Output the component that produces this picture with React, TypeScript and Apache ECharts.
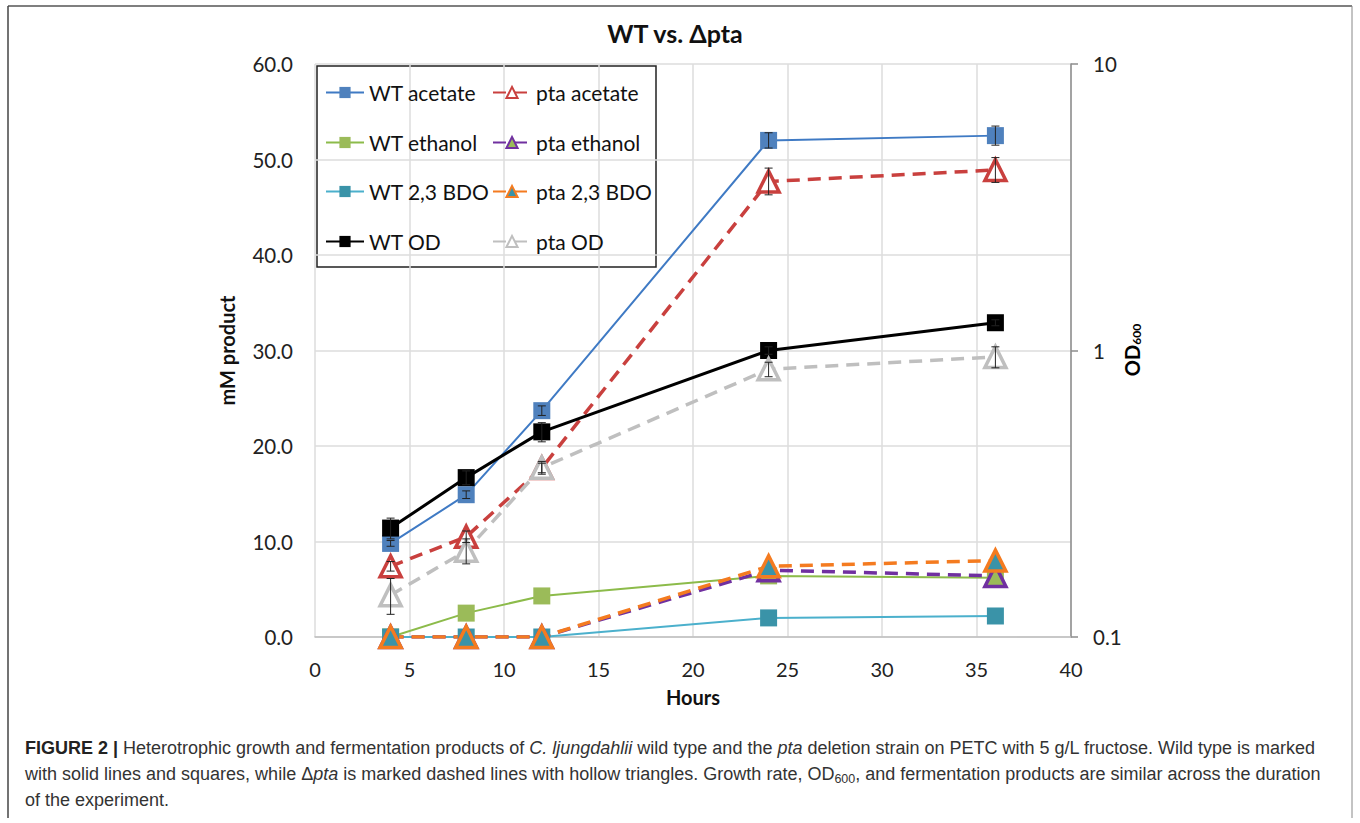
import React, { useEffect, useRef } from "react";
import * as echarts from "echarts";

const hours = [4, 8, 12, 24, 36];

const wtAcetate = [9.8, 14.9, 23.7, 52.0, 52.5];
const wtEthanol = [0.0, 2.5, 4.3, 6.4, 6.2];
const wtBdo = [0.0, 0.0, 0.0, 2.0, 2.2];
const ptaAcetate = [7.4, 10.5, 17.7, 47.7, 48.9];
const ptaEthanol = [0.0, 0.0, 0.0, 7.0, 6.4];
const ptaBdo = [0.0, 0.0, 0.0, 7.4, 8.0];
const wtOd = [0.24, 0.36, 0.52, 1.0, 1.25];
const ptaOd = [0.14, 0.2, 0.39, 0.86, 0.95];

const wtAcetateErr = [0.3, 0.4, 0.5, 0.8, 1.0];
const ptaAcetateErr = [0.5, 0.6, 0.5, 1.4, 1.3];
const wtOdErr = [0.02, 0.02, 0.04, 0.03, 0.03];
const ptaOdErr = [0.02, 0.02, 0.02, 0.05, 0.08];

const leftTicks = [0, 10, 20, 30, 40, 50, 60];
const xTicks = [0, 5, 10, 15, 20, 25, 30, 35, 40];

const FONT = "Lato";
const CAP = "Liberation Sans";

const zip = (ys: number[]) => hours.map((h, i) => [h, ys[i]]);

function solid(name: string, data: number[], line: string, fill: string, width: number, yAxisIndex: number) {
  return {
    name,
    type: "line",
    yAxisIndex,
    data: zip(data),
    symbol: "rect",
    symbolSize: 17,
    lineStyle: { color: line, width, type: "solid" },
    itemStyle: { color: fill, borderColor: fill, borderWidth: 0 },
    z: 3,
  };
}

function dashed(name: string, data: number[], color: string, yAxisIndex: number, fill = "#ffffff") {
  return {
    name,
    type: "line",
    yAxisIndex,
    data: zip(data),
    symbol: "triangle",
    symbolSize: 21,
    lineStyle: { color, width: 3.5, type: [13, 8] },
    itemStyle: { color: fill, borderColor: color, borderWidth: 3.5 },
    z: 3,
  };
}

function errBars(name: string, data: number[], err: number[], yAxisIndex: number) {
  return {
    name,
    type: "custom",
    yAxisIndex,
    z: 5,
    silent: true,
    data: hours.map((h, i) => [h, data[i] - err[i], data[i] + err[i]]),
    renderItem: (params: any, api: any) => {
      const x = api.value(0);
      const lo = api.coord([x, api.value(1)]);
      const hi = api.coord([x, api.value(2)]);
      const style = { stroke: "#222", lineWidth: 1 };
      return {
        type: "group",
        children: [
          { type: "line", shape: { x1: lo[0], y1: lo[1], x2: hi[0], y2: hi[1] }, style },
          { type: "line", shape: { x1: lo[0] - 4, y1: lo[1], x2: lo[0] + 4, y2: lo[1] }, style },
          { type: "line", shape: { x1: hi[0] - 4, y1: hi[1], x2: hi[0] + 4, y2: hi[1] }, style },
        ],
      };
    },
  };
}

const legendItem = (name: string, left: number, top: number) => ({
  data: [name],
  left,
  top,
  itemWidth: 38,
  itemHeight: 14,
  itemGap: 4,
  textStyle: { fontFamily: FONT, fontSize: 21, color: "#111" },
  selectedMode: false,
});

const capText = (text: string, y: number, rich: any = {}) => ({
  type: "text",
  x: 25,
  y,
  style: {
    text,
    verticalAlign: "middle",
    fontFamily: CAP,
    fontSize: 18,
    fill: "#333",
    rich,
  },
});

export default function App() {
  const ref = useRef<HTMLDivElement>(null);
  useEffect(() => {
    const chart = echarts.init(ref.current!, null, { renderer: "svg" });
    const option: any = {
      animation: false,
      backgroundColor: "#ffffff",
      title: {
        text: "WT vs. Δpta",
        left: 670,
        top: 15,
        textAlign: "center",
        textStyle: { fontFamily: FONT, fontSize: 25, fontWeight: "bold", color: "#111" },
      },
      grid: { left: 315, right: 289, top: 64, bottom: 186, containLabel: false },
      xAxis: {
        type: "value",
        min: 0,
        max: 40,
        interval: 5,
        axisLine: { show: true, lineStyle: { color: "#bfbfbf", width: 1.5 } },
        axisTick: { show: false },
        axisLabel: { margin: 22, fontFamily: FONT, fontSize: 20, color: "#222", formatter: (v: number) => (xTicks.includes(v) ? String(v) : "") },
        splitLine: { show: true, lineStyle: { color: "#dcdcdc", width: 1.5 } },
        name: "Hours",
        nameLocation: "middle",
        nameGap: 50,
        nameTextStyle: { fontFamily: FONT, fontSize: 20, fontWeight: "bold", color: "#111" },
      },
      yAxis: [
        {
          type: "value",
          min: 0,
          max: 60,
          interval: 10,
          axisLine: { show: false },
          axisTick: { show: false },
          axisLabel: { margin: 22, fontFamily: FONT, fontSize: 20.5, color: "#222", formatter: (v: number) => (leftTicks.includes(v) ? v.toFixed(1) : "") },
          splitLine: { show: true, lineStyle: { color: "#dcdcdc", width: 1.5 } },
          name: "mM product",
          nameLocation: "middle",
          nameGap: 78,
          nameTextStyle: { fontFamily: FONT, fontSize: 20, fontWeight: "bold", color: "#111" },
        },
        {
          type: "log",
          logBase: 10,
          min: 0.1,
          max: 10,
          position: "right",
          axisLine: { show: true, lineStyle: { color: "#8c8c8c", width: 1.5 } },
          axisTick: { show: true, length: 7, lineStyle: { color: "#8c8c8c", width: 1.5 } },
          axisLabel: { margin: 22, fontFamily: FONT, fontSize: 20.5, color: "#222" },
          splitLine: { show: false },
        },
      ],
      legend: [
        legendItem("WT acetate", 320, 77),
        legendItem("WT ethanol", 320, 127),
        legendItem("WT 2,3 BDO", 320, 176),
        legendItem("WT OD", 320, 226),
        legendItem("pta acetate", 487, 77),
        legendItem("pta ethanol", 487, 127),
        legendItem("pta 2,3 BDO", 487, 176),
        legendItem("pta OD", 487, 226),
      ],
      series: [
        solid("WT acetate", wtAcetate, "#3f7ac4", "#4f81bd", 2, 0),
        solid("WT ethanol", wtEthanol, "#8cbb4a", "#9bbb59", 2, 0),
        solid("WT 2,3 BDO", wtBdo, "#4bb0cc", "#3a93a8", 2, 0),
        dashed("pta acetate", ptaAcetate, "#c9403e", 0),
        dashed("pta ethanol", ptaEthanol, "#7030a0", 0, "#9bbb59"),
        dashed("pta 2,3 BDO", ptaBdo, "#f47b20", 0, "#3a93a8"),
        solid("WT OD", wtOd, "#000000", "#000000", 3, 1),
        dashed("pta OD", ptaOd, "#bfbfbf", 1),
        errBars("e1", wtAcetate, wtAcetateErr, 0),
        errBars("e2", ptaAcetate, ptaAcetateErr, 0),
        errBars("e3", wtOd, wtOdErr, 1),
        errBars("e4", ptaOd, ptaOdErr, 1),
      ],
      graphic: [
        {
          type: "rect",
          z: -1,
          shape: { x: 317, y: 66, width: 339, height: 201 },
          style: { fill: "#ffffff", stroke: "#222", lineWidth: 1.5 },
        },
        {
          type: "text",
          x: 1130,
          y: 350,
          rotation: Math.PI / 2,
          style: {
            text: "{a|OD}{s|600}",
            align: "center",
            verticalAlign: "middle",
            rich: {
              a: { fontFamily: FONT, fontSize: 20, fontWeight: "bold", color: "#111", lineHeight: 24, verticalAlign: "bottom" },
              s: { fontFamily: FONT, fontSize: 12, fontWeight: "bold", color: "#111", lineHeight: 24, verticalAlign: "bottom" },
            },
          },
        },
        { type: "line", shape: { x1: 8, y1: 6, x2: 1352, y2: 6 }, style: { stroke: "#555", lineWidth: 1.5 } },
        { type: "line", shape: { x1: 8, y1: 6, x2: 8, y2: 818 }, style: { stroke: "#444", lineWidth: 1.5 } },
        { type: "line", shape: { x1: 1352, y1: 6, x2: 1352, y2: 818 }, style: { stroke: "#888", lineWidth: 1 } },
        capText(
          "{b|FIGURE 2 |} Heterotrophic growth and fermentation products of {i|C. ljungdahlii} wild type and the {i|pta} deletion strain on PETC with 5 g/L fructose. Wild type is marked",
          748,
          {
            b: { fontFamily: CAP, fontSize: 18, fontWeight: "bold", fill: "#222" },
            i: { fontFamily: CAP, fontSize: 18, fontStyle: "italic", fill: "#333" },
          }
        ),
        capText(
          "with solid lines and squares, while Δ{i|pta} is marked dashed lines with hollow triangles. Growth rate, OD{s|600}, and fermentation products are similar across the duration",
          774,
          {
            i: { fontFamily: CAP, fontSize: 18, fontStyle: "italic", fill: "#333" },
            s: { fontFamily: CAP, fontSize: 12.5, fill: "#333", padding: [9, 0, 0, 0] },
          }
        ),
        capText("of the experiment.", 800),
      ],
    };
    chart.setOption(option);
    return () => chart.dispose();
  }, []);
  return <div ref={ref} style={{ position: "fixed", left: 0, top: 0, width: 1360, height: 823 }} />;
}
